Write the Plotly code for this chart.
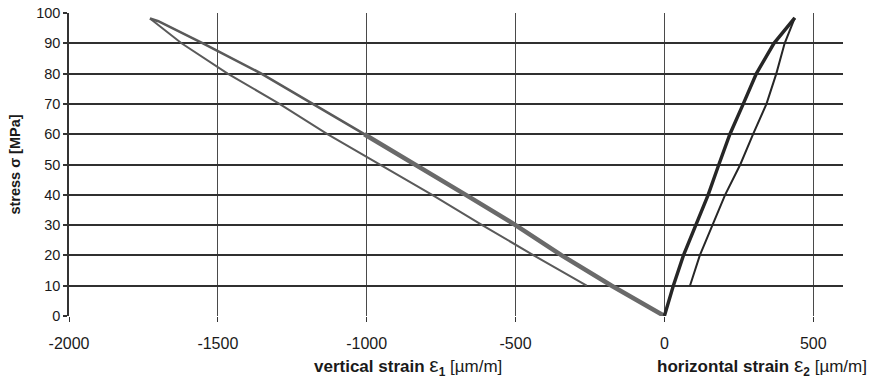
import plotly.graph_objects as go

# ---- data (strain in µm/m, stress in MPa) ----
vert_load_strain = [0, -177, -345, -500, -667, -841, -1008, -1182, -1354, -1550, -1700, -1728]
vert_load_stress = [0, 10, 20, 30, 40, 50, 60, 70, 80, 90, 97.3, 98.2]

vert_unload_strain = [-1728, -1622, -1467, -1293, -1132, -958, -780, -612, -439, -261]
vert_unload_stress = [98.2, 90, 80, 70, 60, 50, 40, 30, 20, 10]

hor_load_strain = [0, 30, 64, 105, 147, 183, 220, 265, 309, 368, 438]
hor_load_stress = [0, 10, 20, 30, 40, 50, 60, 70, 80, 90, 98.4]

hor_unload_strain = [438, 404, 376, 343, 298, 255, 204, 161, 119, 86]
hor_unload_stress = [98.4, 90, 80, 70, 60, 50, 40, 30, 20, 10]

x_ticks = [-2000, -1500, -1000, -500, 0, 500]
y_ticks = [0, 10, 20, 30, 40, 50, 60, 70, 80, 90, 100]

GRAY = "#5a5a5a"
DARK = "#262626"

fig = go.Figure()

# vertical strain: unloading (thin) and loading (thicker band near origin)
fig.add_trace(go.Scatter(x=vert_unload_strain, y=vert_unload_stress, mode="lines",
                         line=dict(color=GRAY, width=2), showlegend=False))
fig.add_trace(go.Scatter(x=vert_load_strain, y=vert_load_stress, mode="lines",
                         line=dict(color=GRAY, width=2.6), showlegend=False))
fig.add_trace(go.Scatter(x=vert_load_strain[:7], y=vert_load_stress[:7], mode="lines",
                         line=dict(color="#6a6a6a", width=4.5), showlegend=False))

# horizontal strain
fig.add_trace(go.Scatter(x=hor_unload_strain, y=hor_unload_stress, mode="lines",
                         line=dict(color=DARK, width=2), showlegend=False))
fig.add_trace(go.Scatter(x=hor_load_strain, y=hor_load_stress, mode="lines",
                         line=dict(color=DARK, width=3.4), showlegend=False))

FONT = "Liberation Sans, Arial, sans-serif"

fig.update_layout(
    width=870, height=381,
    margin=dict(l=69, r=27, t=13, b=65, autoexpand=False),
    paper_bgcolor="white", plot_bgcolor="white",
    font=dict(family=FONT, size=15, color="#1a1a1a"),
    xaxis=dict(range=[-2000, 600], tickvals=x_ticks, ticktext=[str(v) for v in x_ticks],
               showgrid=True, gridcolor="#4a4a4a", gridwidth=1,
               zeroline=False, showline=False, automargin=False,
               ticks="outside", ticklen=5, tickcolor="#333", tickwidth=1,
               ticklabelstandoff=8,
               tickfont=dict(size=16, family=FONT)),
    yaxis=dict(range=[0, 100], tickvals=y_ticks, automargin=False,
               showgrid=True, gridcolor="#303030", gridwidth=2,
               zeroline=False, showline=True, linecolor="#333", linewidth=1.5,
               ticks="outside", ticklen=4, tickcolor="#333", tickwidth=1.5,
               tickfont=dict(size=14.5, family=FONT),
               title=dict(text="<b>stress σ [MPa]</b>", font=dict(size=14.5, family=FONT),
                          standoff=12)),
)

fig.add_annotation(text="<b>vertical strain</b> <span style='font-size:21px'>ε</span><sub><b>1</b></sub> [µm/m]",
                   xref="paper", yref="paper", x=0.438, y=0, yanchor="middle",
                   yshift=-50, showarrow=False, font=dict(size=17, family=FONT, color="#1a1a1a"))
fig.add_annotation(text="<b>horizontal strain</b> <span style='font-size:21px'>ε</span><sub><b>2</b></sub> [µm/m]",
                   xref="paper", yref="paper", x=1.033, xanchor="right", y=0, yanchor="middle",
                   yshift=-50, showarrow=False, font=dict(size=17, family=FONT, color="#1a1a1a"))

fig.write_html("out.html")
